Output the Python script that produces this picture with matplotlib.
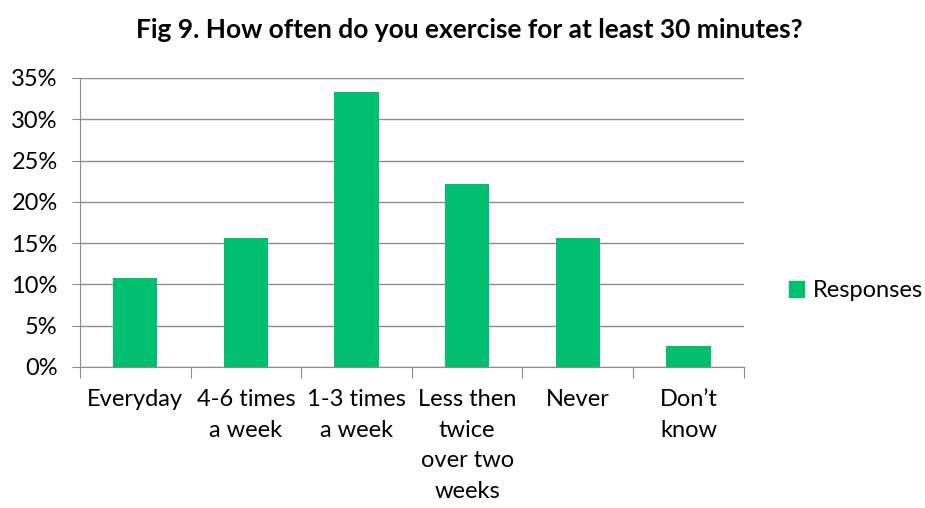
import matplotlib
matplotlib.use("Agg")
import matplotlib.pyplot as plt
import numpy as np
from matplotlib.ticker import FuncFormatter, MultipleLocator
from matplotlib.patches import Patch

categories = ["Everyday", "4-6 times\na week", "1-3 times\na week",
              "Less then\ntwice\nover two\nweeks", "Never", "Don\u2019t\nknow"]
responses = [10.8, 15.6, 33.3, 22.1, 15.6, 2.6]

plt.rcParams['font.family'] = ['Lato', 'DejaVu Sans']
bar_color = '#00BF6F'

fig = plt.figure(figsize=(9.25, 5.08), dpi=100)
ax = fig.add_axes([0.0865, 0.2776, 0.7175, 0.5689])

x = np.arange(len(categories))
ax.bar(x, responses, width=0.4, color=bar_color, zorder=3)

ax.set_xlim(-0.5, len(categories) - 0.5)
ax.set_ylim(0, 35)
ax.yaxis.set_major_locator(MultipleLocator(5))
ax.yaxis.set_major_formatter(FuncFormatter(lambda v, p: f"{v:.0f}%"))
ax.grid(axis='y', color='#8c8c8c', linewidth=1, zorder=0)
ax.tick_params(axis='y', length=6, color='#8c8c8c', labelsize=17, pad=10)

# category labels between boundary ticks
ax.set_xticks(np.arange(-0.5, len(categories), 1))
ax.set_xticklabels([])
ax.tick_params(axis='x', length=8, color='#8c8c8c')
ax.set_xticks(x, minor=True)
ax.set_xticklabels(categories, minor=True, fontsize=17, linespacing=1.56)
ax.tick_params(axis='x', which='minor', length=0, pad=16)

for s in ['top', 'right']:
    ax.spines[s].set_visible(False)
for s in ['left', 'bottom']:
    ax.spines[s].set_color('#8c8c8c')

fig.text(0.507, 0.941, "Fig 9. How often do you exercise for at least 30 minutes?",
         ha='center', va='center', fontsize=19, fontweight='bold')

fig.legend(handles=[Patch(color=bar_color, label='Responses')],
           loc='center left', bbox_to_anchor=(0.853, 0.428), frameon=False,
           fontsize=17, handlelength=0.65, handleheight=0.65, handletextpad=0.35,
           borderpad=0, borderaxespad=0)

fig.savefig("out.png", dpi=100)
